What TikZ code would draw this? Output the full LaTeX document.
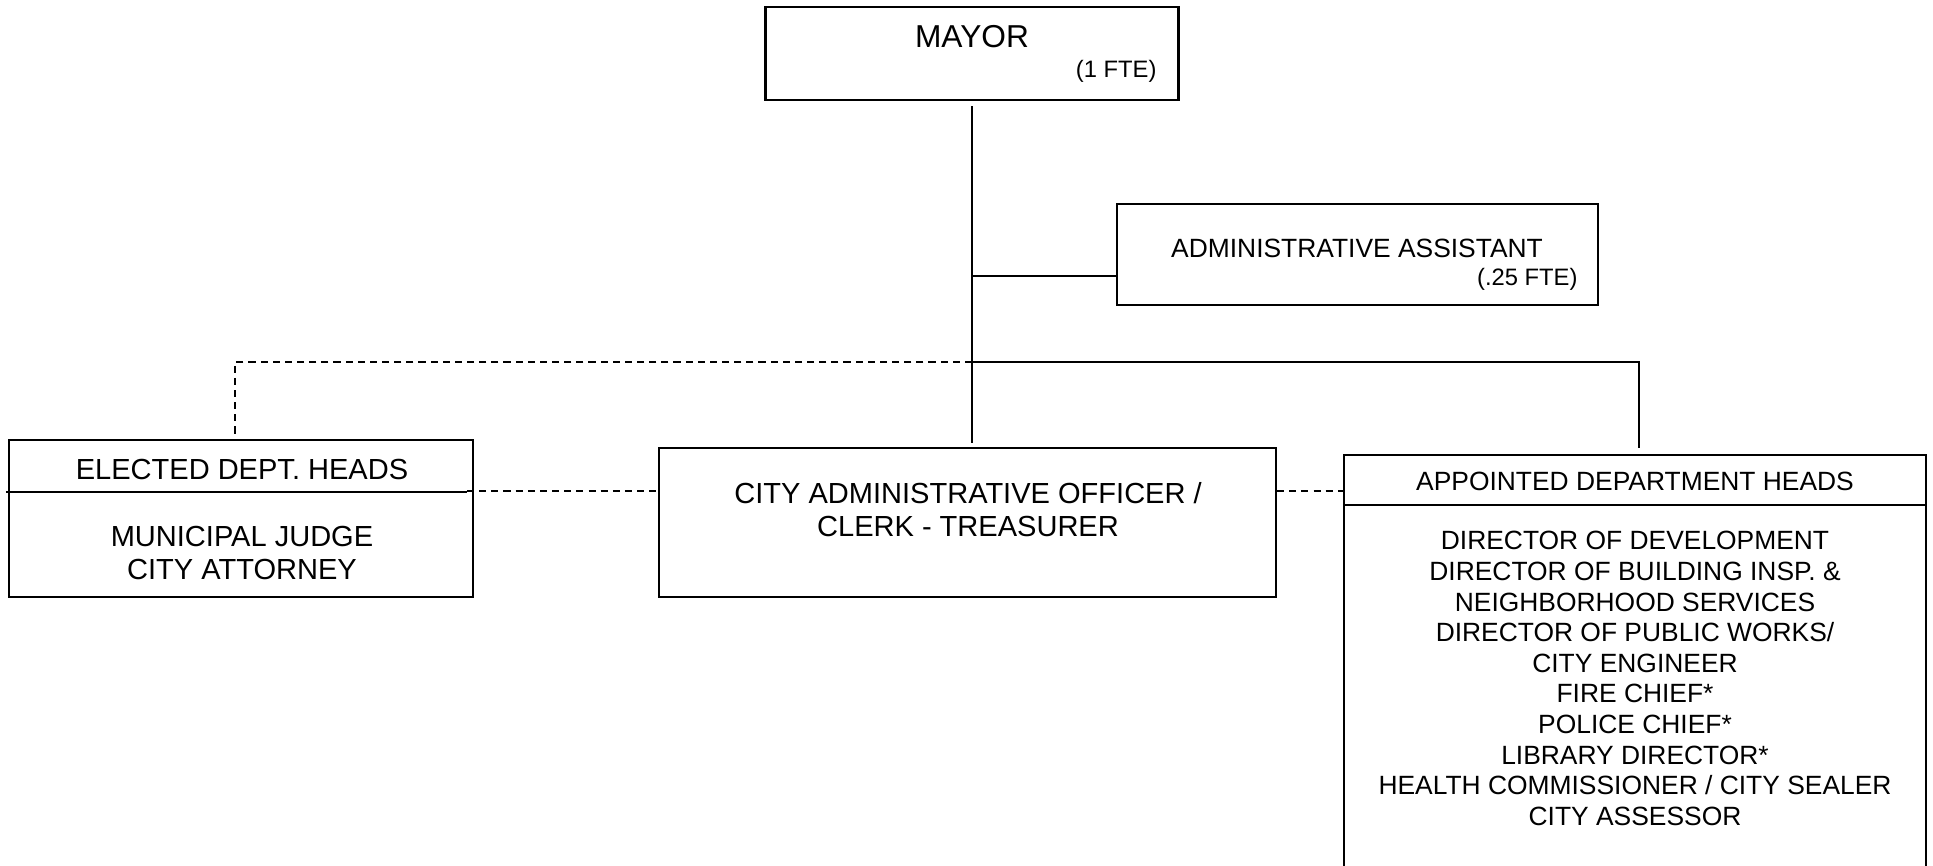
\documentclass[tikz,border=0pt]{standalone}
\usepackage{fontspec}
\setmainfont{Liberation Sans}
\def\u{0.3788pt}
\tikzset{
  box/.style={draw, line width=0.8pt, inner sep=0pt},
  lnk/.style={line width=0.8pt},
  dlnk/.style={line width=0.8pt, dash pattern=on 2.7pt off 1.9pt},
  txt/.style={inner sep=0pt, align=center},
  fxii/.style={font=\fontsize{12}{14}\selectfont},
  fxi/.style={font=\fontsize{11}{12.5}\selectfont},
  fx/.style={font=\fontsize{10}{11.6}\selectfont},
  fix/.style={font=\fontsize{9}{10.5}\selectfont},
}
\begin{document}
\begin{tikzpicture}[x=\u, y=-\u]
\useasboundingbox (0,0) rectangle (1933,866);
\clip (0,0) rectangle (1933,866);
% boxes
\node[box, minimum width=413*\u, minimum height=93*\u] (mayor) at (972,53.5) {};
\node[box, minimum width=481*\u, minimum height=101*\u] (admin) at (1357.5,254.5) {};
\node[box, minimum width=464*\u, minimum height=157*\u] (elected) at (241,518.5) {};
\node[box, minimum width=617*\u, minimum height=149*\u] (cao) at (967.5,522.5) {};
\node[box, minimum width=582*\u, minimum height=445*\u] (appointed) at (1635,677.5) {};
% helper coordinates
\coordinate (ediv) at (0,492);
\coordinate (adiv) at (0,505);
\coordinate (dlev) at (0,491);
\coordinate (l1) at (0,276);
\coordinate (l2) at (0,362);
\coordinate (j1) at (mayor.south |- l1);
\coordinate (j2) at (mayor.south |- l2);
% dividers
\draw[lnk] ([xshift=-2*\u]elected.west |- ediv) -- ([xshift=-7*\u]elected.east |- ediv);
\draw[lnk] (appointed.west |- adiv) -- (appointed.east |- adiv);
% connectors
\draw[lnk] ([yshift=-5*\u]mayor.south) -- ([yshift=4*\u]mayor.south |- cao.north);
\draw[lnk] (j1) -- (j1 -| admin.west);
\draw[lnk] (j2) -| ([xshift=4*\u, yshift=6*\u]appointed.north);
\draw[dlnk] (j2) -| ([xshift=-6*\u, yshift=5*\u]elected.north);
\draw[dlnk] ([xshift=-7*\u]elected.east |- dlev) -- (cao.west |- dlev);
\draw[dlnk] (cao.east |- dlev) -- (appointed.west |- dlev);
% texts
\node[txt, fxii] (mayort) at (972,37) {MAYOR};
\node[txt, fix, anchor=base east] (mayorfte) at (1157,78) {(1 FTE)};
\node[txt, fx] (admint) at (1357,248) {ADMINISTRATIVE ASSISTANT};
\node[txt, fix, anchor=base east] (adminfte) at (1578,286) {(.25 FTE)};
\node[txt, fxi] (electedh) at (242,470) {ELECTED DEPT. HEADS};
\node[txt, fxi] (electedb) at (242,553) {MUNICIPAL JUDGE\\CITY ATTORNEY};
\node[txt, fxi] (caot) at (968,509.5) {CITY ADMINISTRATIVE OFFICER /\\CLERK - TREASURER};
\node[txt, fx] (appointedh) at (1635,481) {APPOINTED DEPARTMENT HEADS};
\node[txt, fx] (appointedb) at (1635,678.5) {DIRECTOR OF DEVELOPMENT\\DIRECTOR OF BUILDING INSP. \&\\NEIGHBORHOOD SERVICES\\DIRECTOR OF PUBLIC WORKS/\\CITY ENGINEER\\FIRE CHIEF*\\POLICE CHIEF*\\LIBRARY DIRECTOR*\\HEALTH COMMISSIONER / CITY SEALER\\CITY ASSESSOR};
\end{tikzpicture}
\end{document}
